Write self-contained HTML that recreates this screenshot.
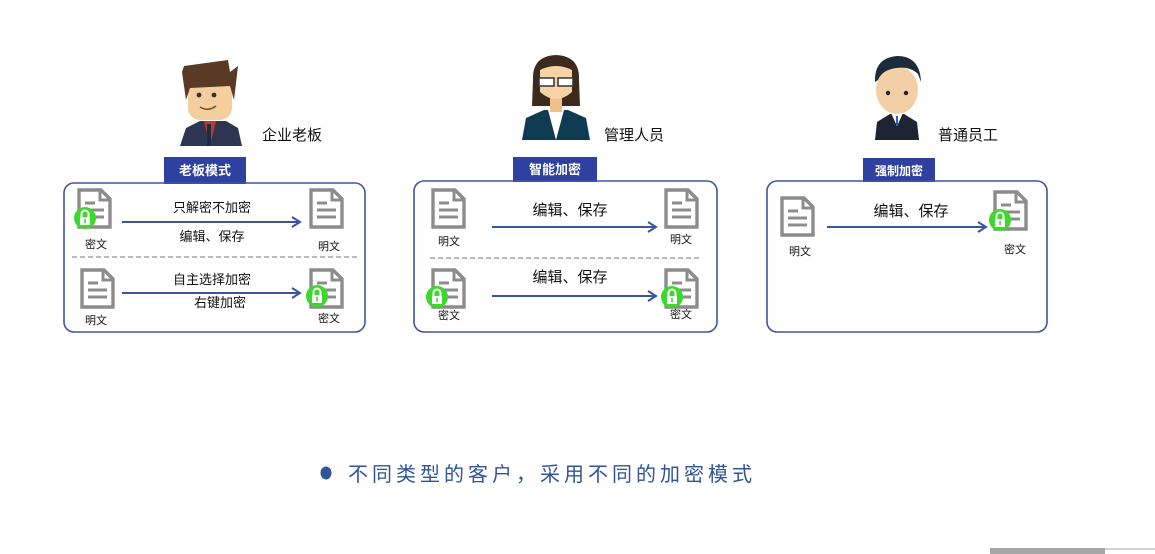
<!DOCTYPE html>
<html><head><meta charset="utf-8"><style>
html,body{margin:0;padding:0;background:#fff;}
svg{display:block;font-family:"Liberation Sans","Noto Sans CJK SC",sans-serif;}
</style></head><body>
<svg width="1155" height="554" viewBox="0 0 1155 554" xmlns="http://www.w3.org/2000/svg">
<defs>
<g id="doc">
<path d="M2,2 H24 L33,11 V39 H2 Z" fill="#fff" stroke="#8c8c8c" stroke-width="3.4" stroke-linejoin="miter"/>
<path d="M23,2 V12 H33" fill="none" stroke="#8c8c8c" stroke-width="3"/>
<line x1="8" y1="15" x2="18" y2="15" stroke="#8c8c8c" stroke-width="3"/>
<line x1="8" y1="22" x2="27" y2="22" stroke="#8c8c8c" stroke-width="3"/>
<line x1="8" y1="29" x2="27" y2="29" stroke="#8c8c8c" stroke-width="3"/>
</g>
<g id="lock">
<circle cx="0" cy="0" r="11" fill="#3cd82c"/>
<path d="M-3.5,-1 V-4 A3.5,3.5 0 0 1 3.5,-4 V-1" fill="none" stroke="#fff" stroke-width="2"/>
<rect x="-5" y="-1" width="10" height="8" fill="#fff"/>
<rect x="-0.8" y="1" width="1.6" height="4" fill="#3cd82c"/>
</g>
<marker id="ar" markerWidth="12" markerHeight="12" refX="10" refY="6" orient="auto" markerUnits="userSpaceOnUse">
<path d="M2,1 L10,6 L2,11" fill="none" stroke="#3b55a0" stroke-width="2"/>
</marker>
</defs>

<!-- Person 1: boss -->
<g>
<path d="M180,146 L186,128 L200,121 L226,121 L238,128 L242,146 Z" fill="#2e3550"/>
<path d="M204,121 L210,146 L216,121 Z" fill="#c0392b"/>
<rect x="207" y="124" width="4" height="22" fill="#1f2a44"/>
<rect x="188" y="78" width="44" height="42" rx="12" fill="#f3cf9e"/>
<path d="M182,72 L186,100 L190,88 L230,86 L234,100 L238,66 L230,72 L228,60 L184,66 Z" fill="#5a3a26"/>
<circle cx="199" cy="95" r="2.4" fill="#333"/><circle cx="214" cy="95" r="2.4" fill="#333"/>
<path d="M200,107 Q208,112 216,106" fill="none" stroke="#7a4a2a" stroke-width="1.5"/>
</g>
<text x="262" y="140" font-size="15" fill="#111">企业老板</text>

<!-- Person 2: manager -->
<g>
<path d="M533,80 Q532,56 556,55 Q580,56 579,80 L580,106 L532,106 Z" fill="#3d2a1c"/>
<path d="M522,140 L526,118 L544,110 L568,110 L586,118 L590,140 Z" fill="#0e3b52"/>
<path d="M548,110 L556,140 L564,110 Z" fill="#fff"/>
<rect x="550" y="98" width="12" height="14" fill="#f0c08a"/>
<path d="M540,70 Q556,62 572,70 L572,92 Q556,106 540,92 Z" fill="#f6d3a4"/>
<rect x="539" y="78" width="15" height="8" fill="#fff" stroke="#333" stroke-width="1.5"/>
<rect x="558" y="78" width="15" height="8" fill="#fff" stroke="#333" stroke-width="1.5"/>
</g>
<text x="604" y="140" font-size="15" fill="#111">管理人员</text>

<!-- Person 3: employee -->
<g>
<path d="M875,140 L877,122 L890,114 L904,114 L917,122 L919,140 Z" fill="#1f2433"/>
<path d="M891,113 L897,126 L903,113 Z" fill="#fff"/>
<rect x="896" y="116" width="2" height="10" fill="#2b5fc4"/>
<ellipse cx="897" cy="90" rx="21" ry="24" fill="#f3cfa5"/>
<path d="M875,82 Q874,58 897,56 Q920,56 921,82 L918,74 Q910,66 896,68 Q882,70 878,80 Z" fill="#1d2c3c"/>
<circle cx="888" cy="93" r="2.2" fill="#222"/><circle cx="906" cy="93" r="2.2" fill="#222"/>
</g>
<text x="938" y="140" font-size="15" fill="#111">普通员工</text>

<!-- Box 1 -->
<rect x="164" y="157" width="82" height="27" fill="#2f41a0"/>
<text x="205" y="175" font-size="13" font-weight="bold" fill="#fff" text-anchor="middle">老板模式</text>
<rect x="64" y="183" width="301" height="149" rx="10" fill="none" stroke="#4152a8" stroke-width="1.6"/>
<use href="#doc" x="77" y="188"/><use href="#lock" x="85" y="218"/>
<text x="96" y="248" font-size="11" fill="#111" text-anchor="middle">密文</text>
<line x1="122" y1="222" x2="300" y2="222" stroke="#3b55a0" stroke-width="2" marker-end="url(#ar)"/>
<text x="212" y="212" font-size="13" fill="#111" text-anchor="middle">只解密不加密</text>
<text x="212" y="241" font-size="13" fill="#111" text-anchor="middle">编辑、保存</text>
<use href="#doc" x="309" y="188"/>
<text x="329" y="250" font-size="11" fill="#111" text-anchor="middle">明文</text>
<line x1="72" y1="257" x2="357" y2="257" stroke="#777" stroke-width="1" stroke-dasharray="5,3"/>
<use href="#doc" x="80" y="268"/>
<text x="96" y="324" font-size="11" fill="#111" text-anchor="middle">明文</text>
<line x1="122" y1="293" x2="300" y2="293" stroke="#3b55a0" stroke-width="2" marker-end="url(#ar)"/>
<text x="212" y="284" font-size="13" fill="#111" text-anchor="middle">自主选择加密</text>
<text x="220" y="307" font-size="13" fill="#111" text-anchor="middle">右键加密</text>
<use href="#doc" x="309" y="268"/><use href="#lock" x="317" y="296"/>
<text x="329" y="322" font-size="11" fill="#111" text-anchor="middle">密文</text>

<!-- Box 2 -->
<rect x="513" y="157" width="84" height="25" fill="#2f41a0"/>
<text x="555" y="174" font-size="13" font-weight="bold" fill="#fff" text-anchor="middle">智能加密</text>
<rect x="414" y="181" width="303" height="151" rx="10" fill="none" stroke="#4152a8" stroke-width="1.6"/>
<use href="#doc" x="431" y="188"/>
<text x="449" y="245" font-size="11" fill="#111" text-anchor="middle">明文</text>
<line x1="492" y1="227" x2="656" y2="227" stroke="#3b55a0" stroke-width="2" marker-end="url(#ar)"/>
<text x="570" y="215" font-size="15" fill="#111" text-anchor="middle">编辑、保存</text>
<use href="#doc" x="664" y="188"/>
<text x="681" y="243" font-size="11" fill="#111" text-anchor="middle">明文</text>
<line x1="430" y1="258" x2="700" y2="258" stroke="#777" stroke-width="1" stroke-dasharray="5,3"/>
<use href="#doc" x="431" y="268"/><use href="#lock" x="437" y="297"/>
<text x="449" y="319" font-size="11" fill="#111" text-anchor="middle">密文</text>
<line x1="492" y1="296" x2="656" y2="296" stroke="#3b55a0" stroke-width="2" marker-end="url(#ar)"/>
<text x="570" y="282" font-size="15" fill="#111" text-anchor="middle">编辑、保存</text>
<use href="#doc" x="664" y="268"/><use href="#lock" x="672" y="297"/>
<text x="681" y="318" font-size="11" fill="#111" text-anchor="middle">密文</text>

<!-- Box 3 -->
<rect x="863" y="158" width="72" height="24" fill="#2f41a0"/>
<text x="899" y="175" font-size="12" font-weight="bold" fill="#fff" text-anchor="middle">强制加密</text>
<rect x="767" y="181" width="280" height="151" rx="10" fill="none" stroke="#4152a8" stroke-width="1.6"/>
<use href="#doc" x="780" y="196"/>
<text x="800" y="255" font-size="11" fill="#111" text-anchor="middle">明文</text>
<line x1="827" y1="227" x2="986" y2="227" stroke="#3b55a0" stroke-width="2" marker-end="url(#ar)"/>
<text x="911" y="216" font-size="15" fill="#111" text-anchor="middle">编辑、保存</text>
<use href="#doc" x="993" y="190"/><use href="#lock" x="1000" y="220"/>
<text x="1015" y="253" font-size="11" fill="#111" text-anchor="middle">密文</text>

<!-- Bottom -->
<ellipse cx="326" cy="473" rx="5.5" ry="6.5" fill="#2f5597"/>
<text x="348" y="481" font-size="20" fill="#2f5597" letter-spacing="4">不同类型的客户，采用不同的加密模式</text>
<rect x="990" y="548" width="115" height="6" fill="#a6a6a6"/>
<line x1="1105" y1="549" x2="1155" y2="549" stroke="#a6a6a6" stroke-width="1"/>
</svg>
</body></html>
